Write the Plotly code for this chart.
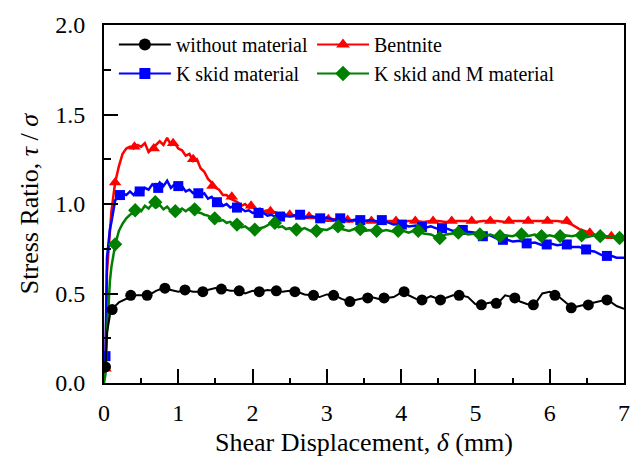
import plotly.graph_objects as go

# ---- data ----
disp = [0, 0.02, 0.04, 0.06, 0.08, 0.1, 0.15, 0.2, 0.25, 0.3,
        0.4, 0.5, 0.6, 0.7, 0.8, 0.9, 1.0, 1.1, 1.2, 1.3,
        1.4, 1.5, 1.6, 1.7, 1.8, 1.9, 2.0, 2.1, 2.2, 2.3,
        2.4, 2.5, 2.6, 2.7, 2.8, 2.9, 3.0, 3.1, 3.2, 3.3,
        3.4, 3.5, 3.6, 3.7, 3.8, 3.9, 4.0, 4.1, 4.2, 4.3,
        4.4, 4.5, 4.6, 4.7, 4.8, 4.9, 5.0, 5.1, 5.2, 5.3,
        5.4, 5.5, 5.6, 5.7, 5.8, 5.9, 6.0, 6.1, 6.2, 6.3,
        6.4, 6.5, 6.6, 6.7, 6.8, 6.9, 7.0]

without_material = [0.06, 0.09, 0.28, 0.34, 0.38, 0.40, 0.43, 0.45, 0.46, 0.47,
                    0.49, 0.49, 0.49, 0.515, 0.53, 0.52, 0.51, 0.52, 0.51, 0.51,
                    0.52, 0.53, 0.525, 0.515, 0.515, 0.50, 0.515, 0.51, 0.52, 0.515,
                    0.51, 0.515, 0.51, 0.495, 0.49, 0.48, 0.495, 0.49, 0.47, 0.455,
                    0.465, 0.475, 0.48, 0.47, 0.475, 0.48, 0.505, 0.49, 0.47, 0.465,
                    0.485, 0.47, 0.475, 0.49, 0.49, 0.48, 0.44, 0.44, 0.45, 0.445,
                    0.49, 0.48, 0.455, 0.44, 0.44, 0.50, 0.51, 0.49, 0.455, 0.42,
                    0.43, 0.44, 0.45, 0.46, 0.46, 0.43, 0.415]

disp_fine = [0, 0.02, 0.04, 0.06, 0.08, 0.1, 0.15, 0.2, 0.25, 0.3,
             0.35, 0.4, 0.45, 0.5, 0.55, 0.6, 0.65, 0.7, 0.75, 0.8, 0.85, 0.9, 0.95,
             1.0, 1.05, 1.1, 1.15, 1.2, 1.25, 1.3, 1.35, 1.4, 1.45, 1.5, 1.55, 1.6, 1.65,
             1.7, 1.75, 1.8, 1.85, 1.9, 1.95,
             2.0, 2.05, 2.1, 2.15, 2.2, 2.25, 2.3, 2.35, 2.4, 2.45, 2.5,
             2.6, 2.7, 2.8, 2.9,
             3.0, 3.1, 3.2, 3.3, 3.4, 3.5, 3.6, 3.7, 3.8, 3.9,
             4.0, 4.1, 4.2, 4.3, 4.4, 4.5, 4.6, 4.7, 4.8, 4.9,
             5.0, 5.1, 5.2, 5.3, 5.4, 5.5, 5.6, 5.7, 5.8, 5.9,
             6.0, 6.1, 6.2, 6.3, 6.4, 6.5, 6.6, 6.7, 6.8, 6.9,
             7.0]

bentnite = [0.05, 0.08, 0.62, 0.75, 0.86, 0.96, 1.12, 1.21, 1.28, 1.31,
            1.32, 1.31, 1.33, 1.32, 1.34, 1.29, 1.31, 1.33, 1.35, 1.33, 1.37, 1.33, 1.34,
            1.31, 1.30, 1.27, 1.28, 1.24, 1.25, 1.20, 1.18, 1.14, 1.12, 1.09, 1.08, 1.05, 1.05,
            1.03, 1.02, 1.01, 0.99, 1.00, 0.98,
            0.98, 0.97, 0.975, 0.96, 0.965, 0.95, 0.955, 0.945, 0.95, 0.94, 0.94,
            0.935, 0.93, 0.93, 0.925,
            0.92, 0.915, 0.915, 0.91, 0.905, 0.905, 0.905, 0.90, 0.905, 0.905,
            0.90, 0.905, 0.905, 0.90, 0.905, 0.905, 0.90, 0.905, 0.905, 0.905,
            0.90, 0.905, 0.905, 0.905, 0.90, 0.905, 0.905, 0.905, 0.905, 0.905,
            0.905, 0.905, 0.90, 0.885, 0.86, 0.845, 0.83, 0.82, 0.82, 0.815,
            0.815]

k_skid = [0.05, 0.15, 0.70, 0.80, 0.86, 0.90, 1.02, 1.05, 1.06, 1.05,
          1.07, 1.05, 1.08, 1.06, 1.09, 1.08, 1.11, 1.09, 1.12, 1.10, 1.13, 1.09, 1.11,
          1.09, 1.10, 1.07, 1.08, 1.06, 1.07, 1.05, 1.06, 1.03, 1.04, 1.01, 1.02, 0.99, 1.00,
          0.98, 0.99, 0.97, 0.975, 0.96, 0.965,
          0.95, 0.955, 0.94, 0.95, 0.935, 0.94, 0.93, 0.935, 0.925, 0.935, 0.93,
          0.94, 0.925, 0.93, 0.915,
          0.925, 0.91, 0.92, 0.905, 0.915, 0.905, 0.91, 0.90, 0.90, 0.885,
          0.89, 0.875, 0.88, 0.865, 0.875, 0.86, 0.865, 0.85, 0.86, 0.845,
          0.84, 0.825, 0.825, 0.805, 0.805, 0.79, 0.795, 0.78, 0.785, 0.77,
          0.78, 0.77, 0.775, 0.76, 0.76, 0.74, 0.735, 0.715, 0.715, 0.70,
          0.70]

k_skid_m = [0.0, 0.05, 0.28, 0.45, 0.57, 0.65, 0.77, 0.85, 0.89, 0.92,
            0.94, 0.95, 0.97, 0.96, 0.99, 0.975, 1.00, 0.98, 0.995, 0.97, 0.985, 0.96, 0.975,
            0.96, 0.975, 0.96, 0.975, 0.965, 0.955, 0.95, 0.94, 0.935, 0.92, 0.925, 0.905, 0.91, 0.895,
            0.90, 0.88, 0.89, 0.87, 0.875, 0.86,
            0.865, 0.85, 0.865, 0.87, 0.88, 0.895, 0.885, 0.87, 0.875, 0.86, 0.865,
            0.85, 0.865, 0.845, 0.86,
            0.855, 0.875, 0.86, 0.85, 0.865, 0.85, 0.855, 0.845, 0.855, 0.845,
            0.855, 0.84, 0.855, 0.835, 0.83, 0.81, 0.83, 0.835, 0.845, 0.83,
            0.835, 0.82, 0.83, 0.815, 0.825, 0.82, 0.835, 0.82, 0.83, 0.815,
            0.825, 0.815, 0.825, 0.82, 0.83, 0.815, 0.825, 0.815, 0.82, 0.81,
            0.80]

# marker positions
without_mx = [0.02, 0.11, 0.36, 0.58, 0.82, 1.09, 1.33, 1.58, 1.82, 2.09, 2.32, 2.57, 2.82, 3.09,
              3.31, 3.55, 3.77, 4.04, 4.28, 4.53, 4.78, 5.08, 5.28, 5.53, 5.78, 6.07, 6.29, 6.52, 6.77]
without_my = [0.09, 0.41, 0.49, 0.49, 0.53, 0.52, 0.51, 0.525, 0.515, 0.51, 0.515, 0.51, 0.49, 0.49,
              0.455, 0.475, 0.475, 0.51, 0.464, 0.464, 0.49, 0.437, 0.445, 0.475, 0.437, 0.49, 0.42, 0.436, 0.464]

bent_mx = [0.02, 0.15, 0.41, 0.67, 0.93, 1.20, 1.46, 1.72, 1.98, 2.24, 2.50, 2.76, 3.02, 3.28,
           3.60, 3.93, 4.19, 4.43, 4.68, 4.95, 5.20, 5.45, 5.71, 5.97, 6.23, 6.54, 6.83]
bent_my = [0.08, 1.12, 1.32, 1.31, 1.34, 1.25, 1.10, 1.04, 0.99, 0.96, 0.94, 0.93, 0.915, 0.91,
           0.905, 0.905, 0.905, 0.905, 0.905, 0.905, 0.905, 0.905, 0.905, 0.905, 0.905, 0.84, 0.82]

kskid_mx = [0.02, 0.215, 0.48, 0.73, 1.0, 1.27, 1.52, 1.79, 2.08, 2.37, 2.64, 2.91, 3.18, 3.45,
            3.74, 4.01, 4.28, 4.55, 4.83, 5.10, 5.37, 5.69, 5.96, 6.23, 6.49, 6.77]
kskid_my = [0.15, 1.05, 1.07, 1.09, 1.10, 1.06, 1.01, 0.98, 0.95, 0.93, 0.94, 0.92, 0.92, 0.91,
            0.91, 0.885, 0.872, 0.865, 0.855, 0.82, 0.80, 0.78, 0.774, 0.774, 0.746, 0.71]

kskidm_mx = [0.15, 0.42, 0.69, 0.96, 1.22, 1.49, 1.79, 2.03, 2.30, 2.59, 2.86, 3.15, 3.45,
             3.67, 3.96, 4.23, 4.52, 4.77, 5.06, 5.33, 5.62, 5.89, 6.14, 6.43, 6.68, 6.94]
kskidm_my = [0.775, 0.965, 1.01, 0.96, 0.97, 0.92, 0.885, 0.857, 0.894, 0.857, 0.85, 0.875, 0.86,
             0.85, 0.85, 0.85, 0.81, 0.84, 0.83, 0.82, 0.83, 0.82, 0.82, 0.825, 0.82, 0.81]

names = ["without material", "Bentnite", "K skid material", "K skid and M material"]

FONT = "Liberation Serif"

series = [
    # name, line x, line y, marker x, marker y, color, symbol, line width, legend, rank
    (names[1], disp_fine, bentnite, bent_mx, bent_my, "#FF0000", "triangle-up", 2.5, "legend2", 1),
    (names[2], disp_fine, k_skid, kskid_mx, kskid_my, "#0000FF", "square", 2.5, "legend", 2),
    (names[3], disp_fine, k_skid_m, kskidm_mx, kskidm_my, "#008000", "diamond", 2.5, "legend2", 2),
    (names[0], disp, without_material, without_mx, without_my, "#000000", "circle", 2, "legend", 1),
]

fig = go.Figure()
for name, xs, ys, mx, my, color, sym, lw, leg, rank in series:
    fig.add_trace(go.Scatter(x=xs, y=ys, mode="lines", line=dict(color=color, width=lw),
                             showlegend=False, hoverinfo="skip"))
    fig.add_trace(go.Scatter(x=mx, y=my, mode="markers",
                             marker=dict(symbol=sym, size=11 if sym != "square" else 10, color=color),
                             showlegend=False))
    fig.add_trace(go.Scatter(x=[None], y=[None], mode="lines+markers", name=name,
                             line=dict(color=color, width=2),
                             marker=dict(symbol=sym, size=12 if sym != "square" else 11, color=color),
                             legend=leg, legendrank=rank))

axis_common = dict(showgrid=False, zeroline=False, linecolor="black", linewidth=2,
                   ticks="inside", tickcolor="black", tickwidth=2,
                   tickfont=dict(family=FONT, size=24, color="black"))

legend_common = dict(orientation="v", xanchor="left", yanchor="top",
                     bgcolor="rgba(0,0,0,0)", tracegroupgap=0, itemwidth=52,
                     font=dict(family=FONT, size=20, color="black"))

fig.update_layout(
    width=642, height=466,
    margin=dict(l=104, r=18, t=22, b=83),
    paper_bgcolor="white", plot_bgcolor="white",
    font=dict(family=FONT, color="black"),
    xaxis=dict(range=[0, 7], dtick=1, tick0=0, ticklen=14, mirror=True,
               ticklabelstandoff=7,
               minor=dict(dtick=0.5, ticklen=5, ticks="inside", tickcolor="black", tickwidth=2),
               title=dict(text="Shear Displacement, <i>δ</i> (mm)", standoff=8,
                          font=dict(family=FONT, size=26, color="black")),
               **axis_common),
    yaxis=dict(range=[0, 2], dtick=0.5, tick0=0, ticklen=14, mirror=True, tickformat=".1f",
               ticklabelstandoff=12,
               minor=dict(dtick=0.25, ticklen=7, ticks="inside", tickcolor="black", tickwidth=2),
               title=dict(text="Stress Ratio, <i>τ</i> / <i>σ</i>", standoff=9,
                          font=dict(family=FONT, size=26, color="black")),
               **axis_common),
    xaxis2=dict(overlaying="x", side="top", range=[0, 7], dtick=0.5, ticks="inside", ticklen=6,
                tickwidth=2, tickcolor="black", showticklabels=False, showgrid=False,
                zeroline=False, showline=False),
    yaxis2=dict(overlaying="y", side="right", range=[0, 2], dtick=0.25, ticks="inside", ticklen=7,
                tickwidth=2, tickcolor="black", showticklabels=False, showgrid=False,
                zeroline=False, showline=False),
    legend=dict(x=0.019, y=1.0, **legend_common),
    legend2=dict(x=0.400, y=1.0, **legend_common),
)

fig.write_html("out.html")
